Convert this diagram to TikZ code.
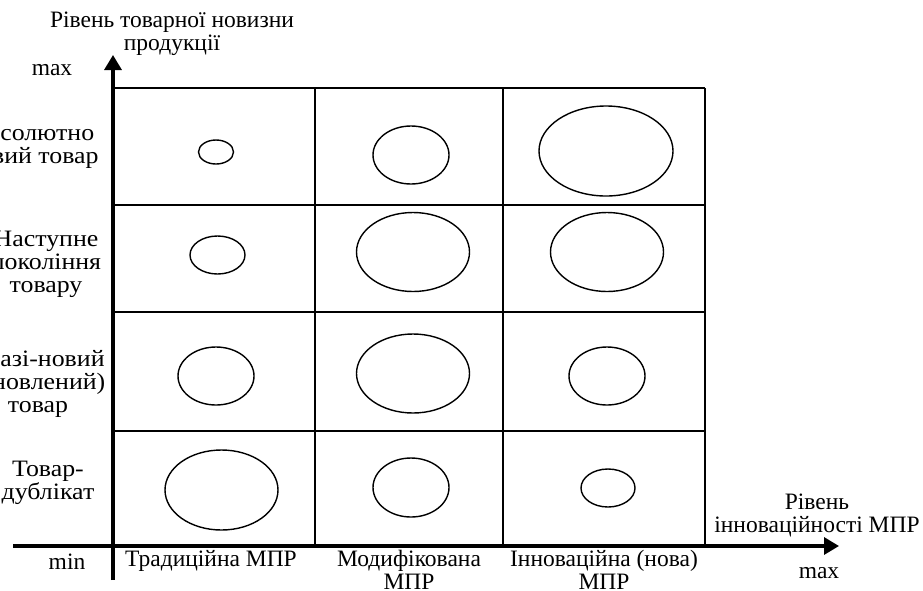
\documentclass[tikz,border=0pt]{standalone}
\usepackage{fontspec}
\setmainfont{Liberation Serif}
\newfontfamily\widefont[FakeStretch=1.1]{Liberation Serif}
\usetikzlibrary{arrows.meta,shapes.geometric}
\begin{document}
\begin{tikzpicture}[x=1pt,y=-1pt,
  lbl/.style={font=\fontsize{23.5}{23}\selectfont, align=center, inner sep=0pt},
  rowlbl/.style={font=\widefont\fontsize{23.5}{23}\selectfont, align=center, inner sep=0pt},
  collbl/.style={font=\fontsize{23.5}{22.5}\selectfont, align=center, inner sep=0pt, anchor=north},
  gridline/.style={line width=1.7pt},
  axis/.style={line width=3.3pt, -{Triangle[length=15pt,width=17pt]}},
  blob/.style={draw, ellipse, line width=1.4pt, inner sep=0pt}
]
\useasboundingbox (0,0) rectangle (923,590);

% grid
\draw[gridline] (113,88) -- (705,88);
\draw[gridline] (113,205) -- (705,205);
\draw[gridline] (113,312) -- (705,312);
\draw[gridline] (113,431) -- (705,431);
\draw[gridline] (315,88) -- (315,546);
\draw[gridline] (503,88) -- (503,546);
\draw[gridline] (705,88) -- (705,546);

% axes
\coordinate (ybot) at (113,580);
\coordinate (ytop) at (113,55);
\coordinate (xleft) at (13,546);
\coordinate (xright) at (839,546);
\draw[axis] (ybot) -- (ytop);
\draw[axis] (xleft) -- (xright);

% ellipses: row 1
\node[blob, minimum width=35pt, minimum height=24pt] (e11) at (216,152) {};
\node[blob, minimum width=76pt, minimum height=58pt] (e12) at (411,155) {};
\node[blob, minimum width=134pt, minimum height=90pt] (e13) at (606,151) {};
% row 2
\node[blob, minimum width=55pt, minimum height=38pt] (e21) at (217.5,255) {};
\node[blob, minimum width=113pt, minimum height=79pt] (e22) at (413,252) {};
\node[blob, minimum width=113pt, minimum height=79pt] (e23) at (607,252) {};
% row 3
\node[blob, minimum width=76pt, minimum height=58pt] (e31) at (216,376) {};
\node[blob, minimum width=113pt, minimum height=79pt] (e32) at (413,373.5) {};
\node[blob, minimum width=76pt, minimum height=58pt] (e33) at (607,376) {};
% row 4
\node[blob, minimum width=113pt, minimum height=80pt] (e41) at (221.5,490) {};
\node[blob, minimum width=76pt, minimum height=59pt] (e42) at (411,487.5) {};
\node[blob, minimum width=54pt, minimum height=38pt] (e43) at (608,488) {};

% labels
\node[lbl] (ytitle) at (172,34) {Рівень товарної новизни\\продукції};
\node[lbl] (ymax) at (52,70) {max};
\node[lbl] (xmin) at (67,562) {min};
\node[lbl] (xmax) at (819,573) {max};
\node[lbl] (xtitle) at (817,515) {Рівень\\інноваційності МПР};

\node[rowlbl] (r1) at (32,146) {Абсолютно\\новий товар};
\node[rowlbl] (r2) at (46,264) {Наступне\\покоління\\товару};
\node[rowlbl] (r3) at (38,384) {Квазі-новий\\(оновлений)\\товар};
\node[rowlbl] (r4) at (48,483) {Товар-\\дублікат};

\node[collbl] (c1) at (211,550) {Традиційна МПР};
\node[collbl] (c2) at (409,550) {Модифікована\\МПР};
\node[collbl] (c3) at (604,550) {Інноваційна (нова)\\МПР};
\end{tikzpicture}
\end{document}
